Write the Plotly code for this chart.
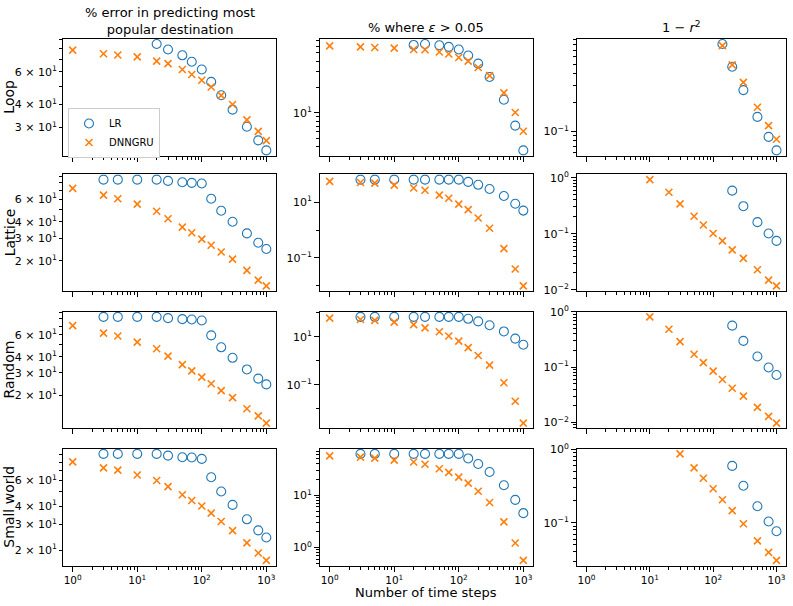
import math
import plotly.graph_objects as go
from plotly.subplots import make_subplots

# number of time steps (x for every panel)
steps = [1, 3, 5, 10, 20, 30, 50, 70, 100, 140, 200, 300, 500, 750, 1000]

networks = ["Loop", "Lattice", "Random", "Small world"]

# Loop
loop_err_lr = [None, None, None, None, 84.9, 79.3, 73.7, 68.0, 61.7, 52.9, 44.8, 37.4, 30.2, 25.5, 22.5]
loop_err_dnn = [78.6, 75.2, 74.0, 72.3, 68.5, 66.4, 61.7, 58.0, 54.0, 49.6, 44.7, 39.9, 32.9, 28.5, 25.4]
loop_eps_lr = [None, None, None, None, 62.0, 63.6, 61.5, 58.9, 54.9, 46.6, 37.5, 26.2, 14.2, 7.1, 3.65]
loop_eps_dnn = [60.4, 58.9, 57.8, 56.8, 54.9, 54.5, 51.2, 48.6, 44.2, 40.2, 33.8, 27.2, 17.1, 10.1, 6.1]
loop_r2_lr = [None] * 9 + [0.817, 0.473, 0.27, 0.142, 0.088, 0.0636]
loop_r2_dnn = [None] * 9 + [0.785, 0.495, 0.325, 0.179, 0.115, 0.083]

# Lattice
lat_err_lr = [None, 84.8, 84.8, 84.8, 84.8, 82.9, 81.0, 80.1, 79.1, 60.4, 48.8, 40.1, 32.6, 27.6, 24.7]
lat_err_dnn = [72.6, 64.3, 60.4, 54.8, 48.3, 42.3, 36.4, 33.0, 29.4, 26.4, 23.4, 20.6, 16.9, 14.2, 12.8]
lat_eps_lr = [None, 64.4, 64.4, 64.4, 64.4, 64.4, 64.4, 64.4, 64.4, 53.4, 42.0, 29.8, 16.6, 8.8, 5.0]
lat_eps_dnn = [56.0, 50.7, 48.0, 41.0, 32.3, 26.8, 18.0, 13.8, 8.5, 5.4, 2.7, 1.16, 0.216, 0.040, 0.0099]
lat_r2_lr = [None] * 10 + [0.587, 0.31, 0.161, 0.101, 0.0746]
lat_r2_dnn = [None] * 3 + [0.923, 0.55, 0.34, 0.205, 0.143, 0.101, 0.0746, 0.0514, 0.0364, 0.0228, 0.0149, 0.0117]

# Random
rnd_err_lr = [None, 83.0, 83.0, 83.0, 83.0, 81.1, 79.6, 79.1, 77.7, 59.3, 47.7, 39.4, 31.9, 27.0, 24.3]
rnd_err_dnn = [70.8, 61.8, 58.6, 52.4, 46.5, 40.6, 34.8, 31.1, 27.7, 24.6, 21.7, 19.1, 15.6, 13.7, 12.0]
rnd_eps_lr = [None, 66.7, 66.7, 66.7, 66.7, 66.7, 66.7, 66.7, 66.7, 55.3, 43.2, 29.7, 16.5, 8.3, 4.6]
rnd_eps_dnn = [58.9, 52.0, 47.4, 40.5, 31.6, 23.2, 16.0, 10.6, 6.5, 3.5, 1.65, 0.65, 0.12, 0.0205, 0.0025]
rnd_r2_lr = [None] * 10 + [0.566, 0.30, 0.156, 0.0987, 0.0722]
rnd_r2_dnn = [None] * 3 + [0.816, 0.488, 0.291, 0.172, 0.121, 0.085, 0.0598, 0.0415, 0.030, 0.0187, 0.0129, 0.0097]

# Small world
sw_err_lr = [None, 91.2, 91.2, 91.2, 91.2, 88.8, 86.5, 86.1, 84.3, 63.1, 50.4, 40.8, 32.5, 27.3, 24.4]
sw_err_dnn = [80.5, 73.1, 70.6, 65.4, 59.9, 54.4, 47.9, 43.7, 40.1, 35.8, 31.4, 27.2, 22.4, 19.1, 17.0]
sw_eps_lr = [None, 62.4, 62.4, 62.4, 62.4, 62.4, 62.4, 62.4, 62.4, 51.1, 40.0, 28.0, 15.6, 8.2, 4.55]
sw_eps_dnn = [57.3, 54.1, 51.8, 47.5, 43.6, 39.5, 32.3, 27.6, 22.3, 17.2, 12.0, 7.3, 3.1, 1.22, 0.565]
sw_r2_lr = [None] * 10 + [0.595, 0.319, 0.168, 0.104, 0.0767]
sw_r2_dnn = [None] * 5 + [0.867, 0.56, 0.404, 0.291, 0.206, 0.146, 0.097, 0.0566, 0.0395, 0.0307]

panels = [
    [(loop_err_lr, loop_err_dnn), (loop_eps_lr, loop_eps_dnn), (loop_r2_lr, loop_r2_dnn)],
    [(lat_err_lr, lat_err_dnn), (lat_eps_lr, lat_eps_dnn), (lat_r2_lr, lat_r2_dnn)],
    [(rnd_err_lr, rnd_err_dnn), (rnd_eps_lr, rnd_eps_dnn), (rnd_r2_lr, rnd_r2_dnn)],
    [(sw_err_lr, sw_err_dnn), (sw_eps_lr, sw_eps_dnn), (sw_r2_lr, sw_r2_dnn)],
]

col_titles = ["% error in predicting most<br>popular destination",
              "% where <i>ε</i> > 0.05",
              "1 − <i>r</i><sup>2</sup>"]

W, H = 793, 606
FONT = "DejaVu Sans"
BLUE = "#1f77b4"
ORANGE = "#ff7f0e"

# axes boxes in pixels (left, right) and (top, bottom)
col_px = [(63, 276), (320, 533), (577, 786)]
row_px = [(32.3, 151.7), (170.7, 290), (310.7, 430), (450.5, 570)]
title_mid = [14.5, 20.5, 20.5]


def log_range(*series):
    vals = [math.log10(v) for s in series for v in s if v is not None]
    lo, hi = min(vals), max(vals)
    pad = 0.05 * (hi - lo)
    return [lo - pad, hi + pad]


def minor_vals(k0, k1):
    return [m * 10 ** k for k in range(k0, k1 + 1) for m in range(2, 10)]


def pow10(k):
    return "10<sup>%s</sup>" % (str(k).replace("-", "−"))


fig = make_subplots(rows=4, cols=3)

for r in range(4):
    for c in range(3):
        lr, dnn = panels[r][c]
        first = (r == 0 and c == 0)
        fig.add_trace(go.Scatter(x=steps, y=lr, mode="markers", name="LR",
                                 marker=dict(symbol="circle-open", size=9, color=BLUE,
                                             line=dict(width=1.1, color=BLUE)),
                                 showlegend=first), row=r + 1, col=c + 1)
        fig.add_trace(go.Scatter(x=steps, y=dnn, mode="markers", name="DNNGRU",
                                 marker=dict(symbol="x-thin", size=7, color=ORANGE,
                                             line=dict(width=1.6, color=ORANGE)),
                                 showlegend=first), row=r + 1, col=c + 1)

        xl, xr = col_px[c]
        yt, yb = row_px[r]
        fig.update_xaxes(type="log", range=[-0.15, 3.15],
                         domain=[xl / W, xr / W],
                         tickvals=[1, 10, 100, 1000],
                         ticktext=[pow10(k) for k in range(4)],
                         showticklabels=(r == 3),
                         ticks="outside", ticklen=5, tickcolor="black",
                         minor=dict(ticks="outside", ticklen=3, tickcolor="black",
                                    tickvals=minor_vals(0, 2)),
                         showline=True, mirror=True, linecolor="black", linewidth=1,
                         showgrid=False, zeroline=False,
                         tickfont=dict(size=10.5, color="black"),
                         row=r + 1, col=c + 1)

        yrange = log_range(lr, dnn)
        if c == 0:
            # sub-decade range: label 2, 3, 4, 6 x 10, plain ticks for the rest
            yt_vals = [20, 30, 40, 60]
            yt_text = ["%d × 10<sup>1</sup>" % (v // 10) for v in yt_vals]
            yminor = dict(ticks="outside", ticklen=3, tickcolor="black",
                          tickvals=[50, 70, 80, 90])
            ylen = 3
        elif yrange[1] - yrange[0] > 3.5:
            # many decades: label every other decade, the rest as minor ticks
            yt_vals = [10 ** k for k in range(-3, 4, 2)]
            yt_text = [pow10(k) for k in range(-3, 4, 2)]
            yminor = dict(ticks="outside", ticklen=3, tickcolor="black",
                          tickvals=[10 ** k for k in range(-4, 4, 2)])
            ylen = 5
        else:
            yt_vals = [10 ** k for k in range(-3, 3)]
            yt_text = [pow10(k) for k in range(-3, 3)]
            yminor = dict(ticks="outside", ticklen=3, tickcolor="black",
                          tickvals=minor_vals(-3, 1))
            ylen = 5
        fig.update_yaxes(type="log", range=yrange,
                         domain=[1 - yb / H, 1 - yt / H],
                         tickvals=yt_vals, ticktext=yt_text,
                         ticks="outside", ticklen=ylen, tickcolor="black",
                         minor=yminor,
                         showline=True, mirror=True, linecolor="black", linewidth=1,
                         showgrid=False, zeroline=False,
                         tickfont=dict(size=11, color="black"),
                         row=r + 1, col=c + 1)

annotations = []
for c, t in enumerate(col_titles):
    xl, xr = col_px[c]
    annotations.append(dict(text=t, x=(xl + xr) / 2 / W, y=1 - title_mid[c] / H,
                            xref="paper", yref="paper", xanchor="center", yanchor="middle",
                            showarrow=False, font=dict(family=FONT, size=13, color="black")))
for r, name in enumerate(networks):
    yt, yb = row_px[r]
    annotations.append(dict(text=name, x=9.5 / W, y=1 - (yt + yb) / 2 / H,
                            xref="paper", yref="paper", xanchor="center", yanchor="middle",
                            textangle=-90, showarrow=False,
                            font=dict(family=FONT, size=14, color="black")))
annotations.append(dict(text="Number of time steps", x=(col_px[1][0] + col_px[1][1]) / 2 / W,
                        y=0, xref="paper", yref="paper", borderpad=0,
                        xanchor="center", yanchor="bottom", showarrow=False,
                        font=dict(family=FONT, size=13, color="black")))

fig.update_layout(width=W, height=H,
                  margin=dict(l=0, r=0, t=0, b=0),
                  paper_bgcolor="white", plot_bgcolor="white",
                  font=dict(family=FONT, color="black"),
                  annotations=annotations,
                  legend=dict(x=68 / W, y=1 - 103 / H, xanchor="left", yanchor="top",
                              bgcolor="white", bordercolor="#cccccc", borderwidth=1,
                              font=dict(size=10, color="black"),
                              tracegroupgap=0, itemwidth=30))

# drop the browser's default page margin so the figure sits at (0, 0)
fig.write_html("out.html", config={"displayModeBar": False},
               post_script="document.body.style.margin='0px';")
